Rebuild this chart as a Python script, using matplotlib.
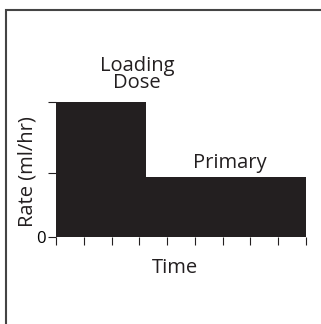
import matplotlib
matplotlib.use("Agg")
import matplotlib.pyplot as plt
from matplotlib.patches import Rectangle

plt.rcParams['font.family'] = ['Open Sans', 'DejaVu Sans']

# infusion phases: start time, duration, rate
phases = ["Loading\nDose", "Primary"]
starts = [0, 3.25]
widths = [3.25, 5.75]
rates = [2.0, 0.89]

yticks = [0, 0.95, 2.0]
ytick_labels = ["0", "", ""]
xticks = list(range(10))

fig = plt.figure(figsize=(3.21, 3.24), dpi=100)
ax = fig.add_axes([56/321, 1 - 237/324, 250/321, 135/324])

ax.bar(starts, rates, width=widths, align='edge', color='#231f20', edgecolor='none')

ax.set_xlim(0, 9)
ax.set_ylim(0, 2.0)
ax.set_xticks(xticks)
ax.set_xticklabels([])
ax.set_yticks(yticks)
ax.set_yticklabels(ytick_labels, fontsize=12)
ax.tick_params(axis='both', direction='out', length=6, width=0.8, color='#231f20', pad=1.5)
for s in ax.spines.values():
    s.set_visible(False)

ax.text(2.92, 2.41, phases[0], ha='center', va='center', fontsize=14.5, color='#231f20',
        linespacing=0.82)
ax.text(6.26, 1.10, phases[1], ha='center', va='center', fontsize=14.5, color='#231f20')

fig.text(175/321, 1 - 268/324, "Time", ha='center', va='center', fontsize=14.5, color='#231f20')
fig.text(27/321, 1 - 172/324, "Rate (ml/hr)", ha='center', va='center', rotation=90, fontsize=14.5,
         color='#231f20')

# outer frame
fig.patches.append(Rectangle((6/321, -0.1), 1.2, 1 - 10/324 + 0.1, transform=fig.transFigure,
                             fill=False, edgecolor='#444444', linewidth=1.5))

fig.savefig("out.png", dpi=100)
